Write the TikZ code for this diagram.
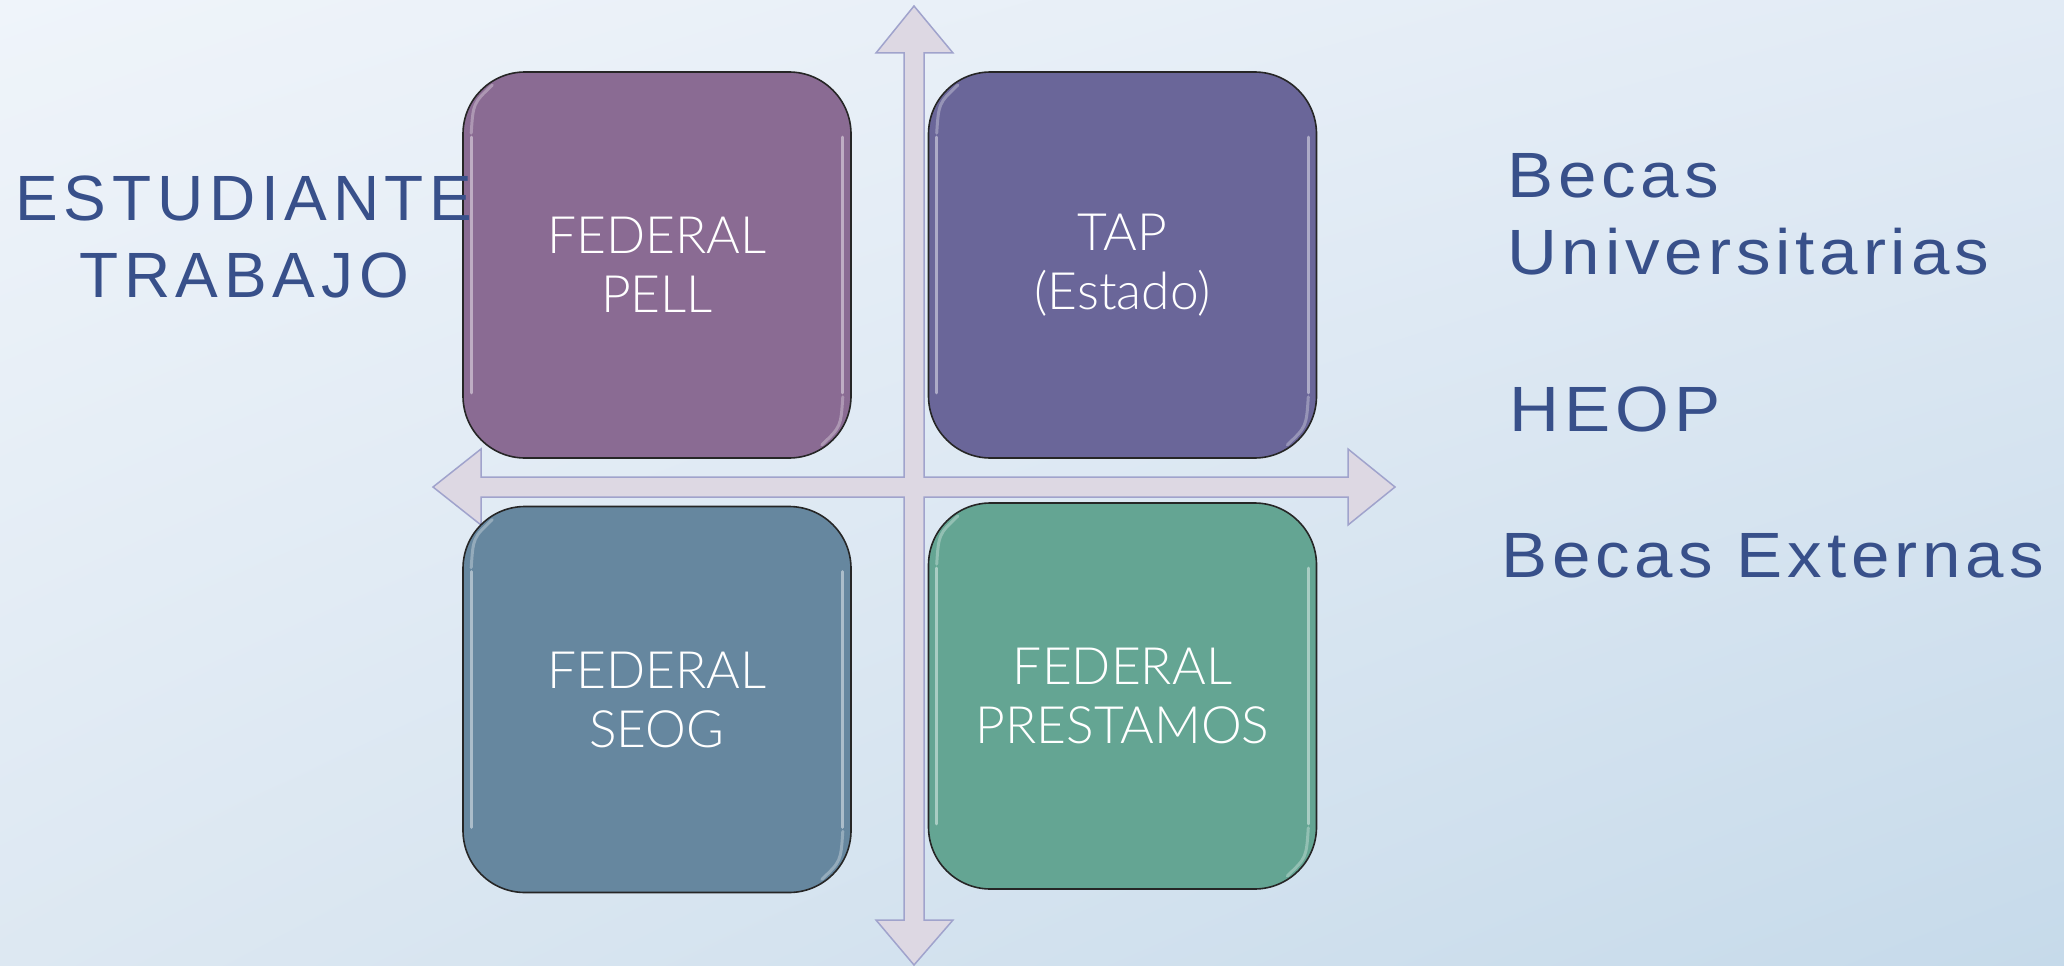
\documentclass[tikz,border=0pt]{standalone}
\usepackage{fontspec}
\usetikzlibrary{shadings}
\setmainfont{Liberation Sans}
\newfontfamily\bluefont[LetterSpace=9]{Liberation Sans}
\newfontfamily\rightfont[LetterSpace=7.6,FakeStretch=1.08]{Liberation Sans}
\newfontfamily\boxfont{Lato Light}
\definecolor{bgUL}{HTML}{EFF4FA}
\definecolor{bgUR}{HTML}{E2EBF5}
\definecolor{bgLL}{HTML}{DDE8F2}
\definecolor{bgLR}{HTML}{C6DAEA}
\definecolor{arrfill}{HTML}{DDD8E3}
\definecolor{arrline}{HTML}{A0A3CC}
\definecolor{txtblue}{HTML}{38508A}
\definecolor{cPell}{HTML}{8A6B93}
\definecolor{cTap}{HTML}{6A6699}
\definecolor{cSeog}{HTML}{66879F}
\definecolor{cPrest}{HTML}{64A593}
\begin{document}
\begin{tikzpicture}[x=1pt,y=-1pt,
  quad/.style={rectangle, rounded corners=62pt, draw=black!85, line width=1.6pt,
    minimum width=388pt, minimum height=386pt, inner sep=0pt, text=white, align=center,
    font=\boxfont\fontsize{51.5}{59}\selectfont},
  gloss/.style={white, opacity=0.45, line width=3pt, line cap=round},
  lbl/.style={text=txtblue, inner sep=0pt, font=\bluefont\fontsize{64}{77}\selectfont},
  rlbl/.style={lbl, anchor=north west, font=\rightfont\fontsize{64}{77}\selectfont},
  cross/.style={fill=arrfill, draw=arrline, line width=1.5pt, line join=miter}]
\shade[upper left=bgUL, upper right=bgUR, lower left=bgLL, lower right=bgLR] (0,0) rectangle (2064,966);
\useasboundingbox (0,0) rectangle (2064,966);
% cross of four arrows
\draw[cross] (914,6) -- (953,53) -- (924,53) -- (924,477) -- (1348,477) -- (1348,449)
  -- (1395,487) -- (1348,525) -- (1348,497) -- (924,497) -- (924,920) -- (953,920)
  -- (914,965) -- (876,920) -- (904,920) -- (904,497) -- (481,497) -- (481,525)
  -- (433,487) -- (481,449) -- (481,477) -- (904,477) -- (904,53) -- (876,53) -- cycle;
% quadrant boxes
\node[quad, fill=cPell] (pell) at (657,265) {FEDERAL\\PELL};
\node[quad, fill=cTap] (tap) at (1122.5,265) {TAP\\(Estado)};
\node[quad, fill=cSeog] (seog) at (657,699.5) {FEDERAL\\SEOG};
\node[quad, fill=cPrest] (prest) at (1122.5,696) {FEDERAL\\PRESTAMOS};
\foreach \b in {pell,tap,seog,prest} {
  \draw[gloss] ([xshift=9pt,yshift=-66pt]\b.north west) -- ([xshift=9pt,yshift=66pt]\b.south west);
  \draw[gloss] ([xshift=-9pt,yshift=-66pt]\b.north east) -- ([xshift=-9pt,yshift=66pt]\b.south east);
  \draw[gloss, opacity=0.3] ([xshift=9pt,yshift=-62pt]\b.north west) .. controls ([xshift=11pt,yshift=-32pt]\b.north west) .. ([xshift=30pt,yshift=-14pt]\b.north west);
  \draw[gloss, opacity=0.3] ([xshift=-9pt,yshift=62pt]\b.south east) .. controls ([xshift=-11pt,yshift=32pt]\b.south east) .. ([xshift=-30pt,yshift=14pt]\b.south east);
}
% side labels
\node[lbl, align=center] (est) at (244,236.5) {ESTUDIANTE\\TRABAJO};
\node[rlbl, align=left] (becas) at (1507,153) {Becas\\Universitarias};
\node[rlbl] (heop) at (1509.5,387) {HEOP};
\node[rlbl] (ext) at (1501,533) {Becas Externas};
\end{tikzpicture}
\end{document}
